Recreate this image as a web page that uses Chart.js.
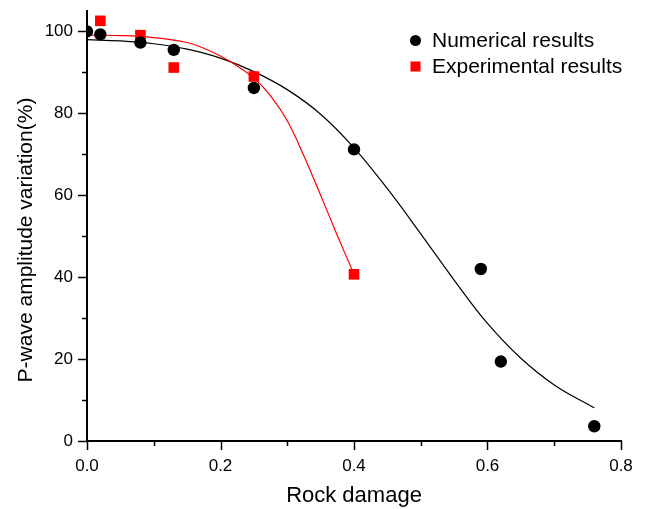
<!DOCTYPE html>
<html>
<head>
<meta charset="utf-8">
<script src="https://cdn.jsdelivr.net/npm/chart.js@4/dist/chart.umd.min.js"></script>
<style>
html,body{margin:0;padding:0;background:#fff;}
#c{display:block;}
</style>
</head>
<body>
<canvas id="c" width="646" height="509"></canvas>
<script>
// Measured data points
const numX = [0, 0.02, 0.08, 0.13, 0.25, 0.40, 0.59, 0.62, 0.76];
const numY = [100, 99.3, 97.3, 95.5, 86.2, 71.2, 42.0, 19.4, 3.6];
const expX = [0.02, 0.08, 0.13, 0.25, 0.40];
const expY = [102.6, 99.1, 91.2, 89.0, 40.7];
// Fitted curves
const numFitX = [0, 0.05, 0.10, 0.15, 0.20, 0.25, 0.30, 0.35, 0.40, 0.45, 0.50, 0.55, 0.60, 0.65, 0.70, 0.76];
const numFitY = [98.0, 97.7, 97.0, 95.7, 93.5, 90.2, 85.8, 79.8, 71.6, 61.6, 50.6, 39.3, 28.7, 20.2, 13.7, 8.1];
const expFitX = [0, 0.05, 0.10, 0.15, 0.175, 0.20, 0.225, 0.25, 0.275, 0.30, 0.325, 0.35, 0.375, 0.40];
const expFitY = [99.1, 99.0, 98.5, 97.3, 95.9, 94.0, 91.6, 88.6, 84.3, 78.2, 69.6, 60.0, 50.2, 40.7];
const xTicks = [0, 0.2, 0.4, 0.6, 0.8];
const yTicks = [0, 20, 40, 60, 80, 100];
const legendLabels = ['Numerical results', 'Experimental results'];
const xTitle = 'Rock damage';
const yTitle = 'P-wave amplitude variation(%)';

const pts = (xs, ys) => xs.map((x, i) => ({x: x, y: ys[i]}));
const FONT = '"Liberation Sans", Arial, sans-serif';

const tickPlugin = {
  id: 'ticksAndLegend',
  afterDraw(chart) {
    const ctx = chart.ctx;
    const xs = chart.scales.x, ys = chart.scales.y;
    const ca = chart.chartArea;
    ctx.save();
    ctx.strokeStyle = '#000';
    ctx.lineWidth = 1.5;
    ctx.beginPath();
    for (let v = 0; v <= 80 + 1e-9; v += 10) {
      const xp = Math.round(xs.getPixelForValue(v / 100)) + 0.5;
      const len = (v % 20 === 0) ? 9 : 5;
      ctx.moveTo(xp, ca.bottom);
      ctx.lineTo(xp, ca.bottom + len);
    }
    for (let v = 0; v <= 100; v += 10) {
      const yp = Math.round(ys.getPixelForValue(v)) + 0.5;
      const len = (v % 20 === 0) ? 9 : 5;
      ctx.moveTo(ca.left, yp);
      ctx.lineTo(ca.left - len, yp);
    }
    ctx.stroke();
    // y axis title
    ctx.fillStyle = '#000';
    ctx.font = '21px ' + FONT;
    ctx.textAlign = 'center';
    ctx.textBaseline = 'middle';
    ctx.save();
    ctx.translate(26, 240);
    ctx.rotate(-Math.PI / 2);
    ctx.fillText(yTitle, 0, 0);
    ctx.restore();
    // legend
    ctx.textAlign = 'left';
    ctx.beginPath();
    ctx.arc(415.5, 40.5, 5.5, 0, Math.PI * 2);
    ctx.fill();
    ctx.fillText(legendLabels[0], 432, 41);
    ctx.fillStyle = '#ff0000';
    ctx.fillRect(410.5, 61.5, 10, 10);
    ctx.fillStyle = '#000';
    ctx.fillText(legendLabels[1], 432, 67);
    ctx.restore();
  }
};

new Chart(document.getElementById('c'), {
  type: 'scatter',
  data: {
    datasets: [
      {label: legendLabels[0], data: pts(numX, numY), pointStyle: 'circle', pointRadius: 6.2,
       backgroundColor: '#000', borderColor: '#000', borderWidth: 0, order: 0},
      {label: legendLabels[1], data: pts(expX, expY), pointStyle: 'rect', pointRadius: 7.5,
       backgroundColor: '#ff0000', borderColor: '#ff0000', borderWidth: 0, order: 1},
      {label: 'fitN', data: pts(numFitX, numFitY), showLine: true, pointRadius: 0,
       borderColor: '#000', borderWidth: 1.2, tension: 0.4, fill: false, order: 3},
      {label: 'fitE', data: pts(expFitX, expFitY), showLine: true, pointRadius: 0,
       borderColor: '#ff0000', borderWidth: 1.2, tension: 0.4, fill: false, order: 2}
    ]
  },
  options: {
    responsive: false,
    animation: false,
    layout: {padding: {top: 11, right: 25, left: 0, bottom: 0}},
    plugins: {legend: {display: false}, tooltip: {enabled: false}},
    scales: {
      x: {
        type: 'linear', min: 0, max: 0.8,
        afterFit(s) { s.height = 68; s.paddingLeft = 0; s.paddingRight = 0; },
        afterBuildTicks(s) { s.ticks = xTicks.map(v => ({value: v})); },
        grid: {drawOnChartArea: false, drawTicks: false},
        border: {display: true, color: '#000', width: 2},
        ticks: {padding: 15, color: '#000', font: {family: FONT, size: 17},
                callback: v => v.toFixed(1), maxRotation: 0, autoSkip: false},
        title: {display: true, text: xTitle, color: '#000', font: {family: FONT, size: 22},
                padding: {top: 9, bottom: 0}}
      },
      y: {
        type: 'linear', min: 0, max: 105,
        afterFit(s) { s.width = 87; s.paddingTop = 0; s.paddingBottom = 0; },
        afterBuildTicks(s) { s.ticks = yTicks.map(v => ({value: v})); },
        grid: {drawOnChartArea: false, drawTicks: false},
        border: {display: true, color: '#000', width: 2},
        ticks: {padding: 14, color: '#000', font: {family: FONT, size: 17}, autoSkip: false},
        title: {display: false}
      }
    }
  },
  plugins: [tickPlugin]
});
</script>
</body>
</html>
